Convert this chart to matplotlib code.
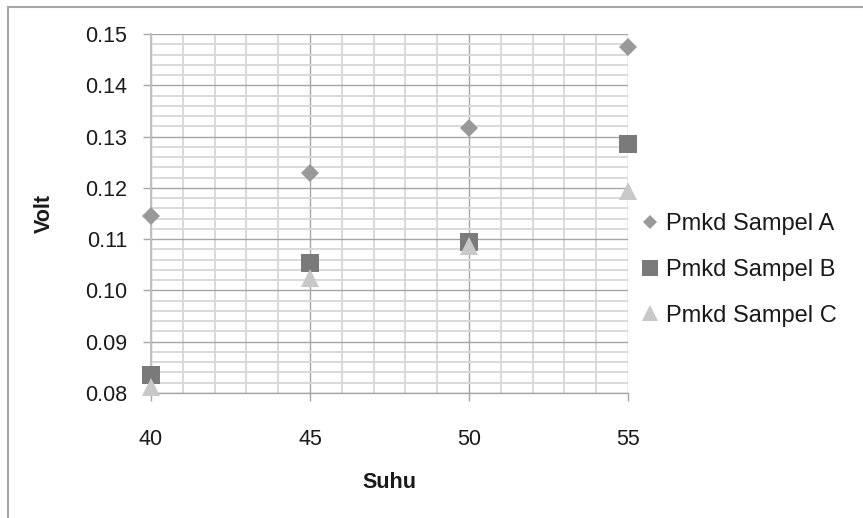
import matplotlib
matplotlib.use("Agg")
import matplotlib.pyplot as plt
from matplotlib.ticker import MultipleLocator, FormatStrFormatter
from matplotlib.lines import Line2D

plt.rcParams['font.family'] = ['Liberation Sans', 'DejaVu Sans']

suhu = [40, 45, 50, 55]
sampel_a = [0.1146, 0.1229, 0.1317, 0.1475]
sampel_b = [0.0835, 0.1053, 0.1095, 0.1286]
sampel_c = [0.0812, 0.1024, 0.1087, 0.1193]
series_names = ['Pmkd Sampel A', 'Pmkd Sampel B', 'Pmkd Sampel C']

fig = plt.figure(figsize=(8.63, 5.18), dpi=100)
ax = fig.add_axes([151/863, 1-393/518, (628-151)/863, (393-34)/518])

ax.set_xlim(40, 55)
ax.set_ylim(0.08, 0.15)
ax.xaxis.set_major_locator(MultipleLocator(5))
ax.xaxis.set_minor_locator(MultipleLocator(1))
ax.yaxis.set_major_locator(MultipleLocator(0.01))
ax.yaxis.set_minor_locator(MultipleLocator(0.002))
ax.yaxis.set_major_formatter(FormatStrFormatter('%.2f'))

ax.grid(which='minor', color='#d9d9d9', linewidth=1.4, zorder=0)
ax.grid(which='major', color='#a6a6a6', linewidth=1.0, zorder=0)
ax.set_axisbelow(True)
for s in ['top', 'right']:
    ax.spines[s].set_visible(False)
ax.spines['left'].set_color('#c0c0c0')
ax.spines['left'].set_linewidth(1.4)
ax.spines['bottom'].set_color('#a6a6a6')
ax.spines['bottom'].set_linewidth(1.0)

ax.tick_params(which='major', direction='out', length=6, width=1.0,
               color='#a6a6a6', labelsize=15.5, labelcolor='#1a1a1a')
ax.tick_params(axis='y', pad=11)
ax.tick_params(axis='x', pad=20)
ax.tick_params(which='minor', length=0)

ax.plot(suhu, sampel_a, linestyle='none', marker='D', markersize=8.7,
        color='#999999', markeredgewidth=0, clip_on=False, zorder=3, label=series_names[0])
ax.plot(suhu, sampel_b, linestyle='none', marker='s', markersize=13,
        color='#7a7a7a', markeredgewidth=0, clip_on=False, zorder=3, label=series_names[1])
ax.plot(suhu, sampel_c, linestyle='none', marker='^', markersize=12.5,
        color='#c8c8c8', markeredgewidth=0, clip_on=False, zorder=4, label=series_names[2])

ax.set_xlabel('Suhu', fontsize=15.5, fontweight='bold', color='#1a1a1a', labelpad=16)
ax.set_ylabel('Volt', fontsize=15.5, fontweight='bold', color='#1a1a1a', labelpad=22)

handles = [
    Line2D([], [], linestyle='none', marker='D', markersize=7, color='#999999', markeredgewidth=0),
    Line2D([], [], linestyle='none', marker='s', markersize=11, color='#7a7a7a', markeredgewidth=0),
    Line2D([], [], linestyle='none', marker='^', markersize=11, color='#c8c8c8', markeredgewidth=0),
]
leg = fig.legend(handles, series_names, loc='center left',
                 bbox_to_anchor=(631/863, 1-270/518), frameon=False,
                 fontsize=17, handlelength=0.6, handletextpad=0.4,
                 labelspacing=1.0, borderpad=0)
for t in leg.get_texts():
    t.set_color('#1a1a1a')

# outer chart border (left and top visible)
fig.add_artist(Line2D([8/863, 8/863], [0, 1-7/518], transform=fig.transFigure,
                      color='#a6a6a6', linewidth=1.5))
fig.add_artist(Line2D([8/863, 1], [1-7/518, 1-7/518], transform=fig.transFigure,
                      color='#a6a6a6', linewidth=1.5))

fig.savefig('out.png', dpi=100)
